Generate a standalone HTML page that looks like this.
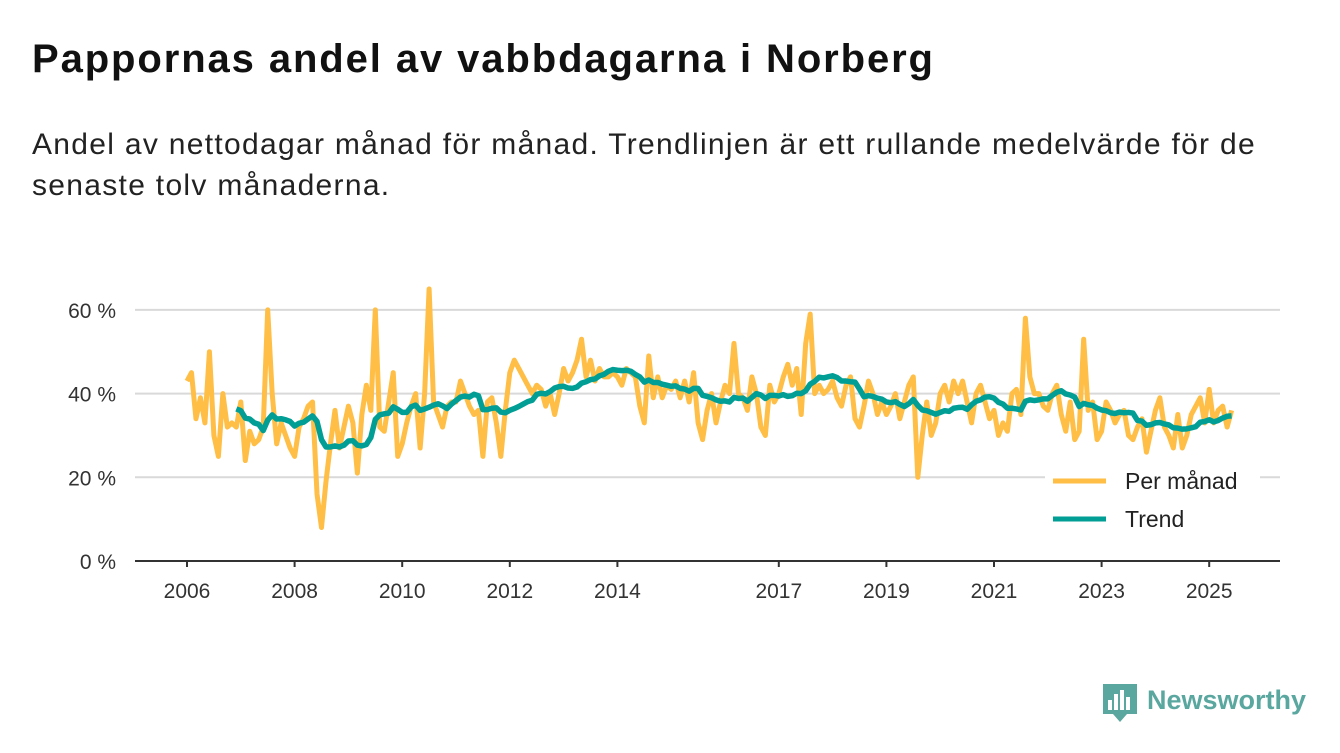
<!DOCTYPE html>
<html><head><meta charset="utf-8"><style>
body{margin:0;width:1340px;height:753px;background:#fff;font-family:"Liberation Sans","DejaVu Sans",sans-serif;overflow:hidden;position:relative}
h1{position:absolute;left:32px;top:37px;margin:0;font-size:40px;font-weight:bold;color:#111;letter-spacing:1.9px}
.sub{position:absolute;left:32px;top:124px;margin:0;font-size:30px;letter-spacing:1.3px;line-height:41px;color:#222;width:1240px}
svg{position:absolute;left:0;top:0}
</style></head><body>
<h1>Pappornas andel av vabbdagarna i Norberg</h1>
<p class="sub">Andel av nettodagar månad för månad. Trendlinjen är ett rullande medelvärde för de senaste tolv månaderna.</p>
<svg id="chart" width="1340" height="753"></svg>
<script>
const startYear = 2006;
const monthly = [
43,45,34,39,33,50,30,25,40,32,33,32,
38,24,31,28,29,32,60,40,28,33,30,27,
25,32,34,37,38,16,8,19,28,36,27,32,
37,33,21,35,42,36,60,32,31,38,45,25,
28,33,37,40,27,40,65,38,35,32,37,38,
38,43,40,37,35,36,25,38,39,33,25,36,
45,48,46,44,42,40,42,41,37,40,35,40,
46,43,45,48,53,44,48,43,46,44,44,45,
44,42,46,45,44,37,33,49,39,44,39,42,
41,43,39,43,38,45,33,29,36,40,33,38,
42,40,52,40,39,36,44,40,32,30,42,38,
40,44,47,42,46,35,52,59,40,42,40,41,
43,39,37,42,44,34,32,37,43,40,35,38,
35,37,40,34,38,42,44,20,30,38,30,33,
40,42,38,43,40,43,38,33,40,42,38,34,
36,30,33,31,40,41,35,58,44,40,40,37,
36,40,42,35,31,38,29,31,53,36,38,29,
31,38,36,33,35,36,30,29,32,34,26,31,
36,39,32,30,27,35,27,30,35,37,39,33,
41,33,36,37,32,36];
const yTicks = [0,20,40,60];
const xTickYears = [2006,2008,2010,2012,2014,2017,2019,2021,2023,2025];
const legendLabels = ["Per månad","Trend"];

const NS="http://www.w3.org/2000/svg";
const svg=document.getElementById('chart');
const x0=135,x1=1280,yBase=561;
const xs=t=>187+(t-2006)*53.8;
const ys=v=>yBase-v*4.185;
function el(tag,attrs,parent){const e=document.createElementNS(NS,tag);for(const k in attrs)e.setAttribute(k,attrs[k]);(parent||svg).appendChild(e);return e;}

yTicks.forEach(v=>{
  if(v>0){const g=el('line',{x1:x0,x2:x1,y1:ys(v),y2:ys(v),stroke:'#d9d9d9','stroke-width':2});
  
  }
  const t=el('text',{x:116,y:ys(v)+8,'text-anchor':'end','font-size':21,fill:'#333'});
  t.textContent=v+' %';
  
  
});
const ax=el('line',{x1:x0,x2:x1,y1:yBase,y2:yBase,stroke:'#333','stroke-width':2});


xTickYears.forEach(yr=>{
  const tk=el('line',{x1:xs(yr),x2:xs(yr),y1:yBase,y2:yBase+6,stroke:'#333','stroke-width':2});
  
  
  const t=el('text',{x:xs(yr),y:598,'text-anchor':'middle','font-size':21,fill:'#333'});
  t.textContent=yr;
  
  
});
const pts=monthly.map((v,i)=>[xs(startYear+i/12),ys(v)]);
const p1=el('polyline',{points:pts.map(p=>p.join(',')).join(' '),fill:'none',stroke:'#ffbe45','stroke-width':5,'stroke-linejoin':'round'});


const tp=[];
for(let i=11;i<monthly.length;i++){let s=0;for(let j=i-11;j<=i;j++)s+=monthly[j];tp.push([xs(startYear+i/12),ys(s/12)]);}
const p2=el('polyline',{points:tp.map(p=>p.join(',')).join(' '),fill:'none',stroke:'#009e94','stroke-width':5.5,'stroke-linejoin':'round'});


const lc=['#ffbe45','#009e94'];
legendLabels.forEach((lab,i)=>{
  const y=481+i*38;
  const bg=el('rect',{x:1045,y:y-17,width:215,height:34,fill:'#fff'});
  
  
  const l=el('line',{x1:1053,x2:1106,y1:y,y2:y,stroke:lc[i],'stroke-width':5});
  
  
  const t=el('text',{x:1125,y:y+8,'font-size':23,fill:'#222'});
  t.textContent=lab;
  
  
});
const g=el('g',{});


el('path',{d:'M1103 684h34v30h-10l-7 8-7-8h-10z',fill:'#5aa7a0'},g);
[[1108,700,4,10],[1114,694,4,16],[1120,690,4,20],[1126,697,4,13]].forEach(r=>el('rect',{x:r[0],y:r[1],width:r[2],height:r[3],fill:'#fff'},g));
const lt=el('text',{x:1147,y:709,'font-size':27,'font-weight':'bold',fill:'#5aa7a0'},g);
lt.textContent='Newsworthy';
</script>
</body></html>
